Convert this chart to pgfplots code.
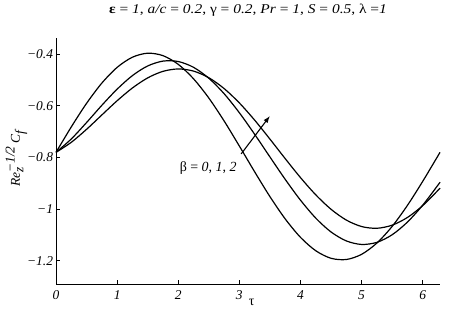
\documentclass[border=0pt]{standalone}
\usepackage{fontspec}
\setmainfont{Liberation Serif}
\usepackage{graphicx}
\usepackage{pgfplots}
\pgfplotsset{compat=1.18}
\usetikzlibrary{arrows.meta}
\begin{document}
\begin{tikzpicture}
\useasboundingbox (-56bp,-32bp) rectangle (395bp,284bp);
\begin{axis}[
 at={(0,0)}, anchor=south west,
 scale only axis, width=384bp, height=246bp,
 xmin=0, xmax=6.2832, ymin=-1.29, ymax=-0.337,
 axis lines=left, axis line style={-, line width=0.8bp},
 xtick={0,1,2,3,4,5,6}, xticklabels={0,1,2,3,4,5,6},
 ytick={-1.2,-1,-0.8,-0.6,-0.4}, yticklabels={−1.2,−1,−0.8,−0.6,−0.4},
 tick align=inside, major tick length=3.5bp,
 tick style={black, line width=0.8bp},
 ticklabel style={font=\fontsize{13.5}{15}\selectfont\itshape},
 xticklabel style={yshift=-3bp},
 yticklabel style={xshift=0.5bp},
 title={\scalebox{1.15}[1]{{\bfseries ε} = \textit{1}, \textit{a/c} = \textit{0.2}, γ = \textit{0.2}, \textit{Pr} = \textit{1}, \textit{S} = \textit{0.5}, λ =\textit{1}}},
 title style={at={(axis description cs:0.5,1)}, anchor=base, yshift=19bp, font=\fontsize{13.5}{15}\selectfont},
 xlabel={τ},
 xlabel style={at={(axis description cs:0.5096,0)}, anchor=base, yshift=-21bp, font=\fontsize{14}{16}\selectfont},
 ylabel={\textit{Re}$_{\textit{z}}^{\textit{−1/2}}$\,\textit{C}$_{\textit{f}}$},
 ylabel style={at={(axis description cs:-0.094,0.51)}, rotate=0, anchor=base, font=\fontsize{13.5}{15}\selectfont},
 clip=false,
]
\addplot[black, line width=1.2bp, smooth] coordinates {
(0,-0.7800) (0.25,-0.6815) (0.5,-0.5902) (0.75,-0.5117) (1.0,-0.4508) (1.25,-0.4114)
(1.5,-0.3959) (1.75,-0.4053) (2.0,-0.4390) (2.25,-0.4949) (2.5,-0.5694) (2.75,-0.6581)
(3.0,-0.7554) (3.25,-0.8552) (3.5,-0.9513) (3.75,-1.0377) (4.0,-1.1092) (4.25,-1.1611)
(4.5,-1.1904) (4.75,-1.1951) (5.0,-1.1751) (5.25,-1.1314) (5.5,-1.0669) (5.75,-0.9855)
(6.0,-0.8924) (6.25,-0.7933) (6.2832,-0.7800)};
\addplot[black, line width=1.2bp, smooth] coordinates {
(0,-0.7800) (0.25,-0.7281) (0.5,-0.6645) (0.75,-0.5977) (1.0,-0.5352) (1.25,-0.4827)
(1.5,-0.4453) (1.75,-0.4265) (2.0,-0.4281) (2.25,-0.4505) (2.5,-0.4928) (2.75,-0.5526)
(3.0,-0.6265) (3.25,-0.7099) (3.5,-0.7976) (3.75,-0.8845) (4.0,-0.9651) (4.25,-1.0347)
(4.5,-1.0884) (4.75,-1.1231) (5.0,-1.1368) (5.25,-1.1287) (5.5,-1.0992) (5.75,-1.0502)
(6.0,-0.9847) (6.25,-0.9068) (6.2832,-0.8957)};
\addplot[black, line width=1.2bp, smooth] coordinates {
(0,-0.7800) (0.25,-0.7411) (0.5,-0.6908) (0.75,-0.6352) (1.0,-0.5801) (1.25,-0.5307)
(1.5,-0.4915) (1.75,-0.4662) (2.0,-0.4569) (2.25,-0.4652) (2.5,-0.4908) (2.75,-0.5327)
(3.0,-0.5885) (3.25,-0.6551) (3.5,-0.7285) (3.75,-0.8042) (4.0,-0.8777) (4.25,-0.9445)
(4.5,-1.0005) (4.75,-1.0423) (5.0,-1.0674) (5.25,-1.0741) (5.5,-1.0621) (5.75,-1.0323)
(6.0,-0.9864) (6.25,-0.9272) (6.2832,-0.9185)};
\draw[black, line width=1.1bp, -{Latex[length=7bp,width=5bp]}] (axis cs:3.03,-0.786) -- (axis cs:3.50,-0.639);
\node[anchor=base, font=\fontsize{14}{16}\selectfont] at (axis cs:2.49,-0.855) {β = \textit{0}, \textit{1}, \textit{2}};
\end{axis}
\end{tikzpicture}
\end{document}
